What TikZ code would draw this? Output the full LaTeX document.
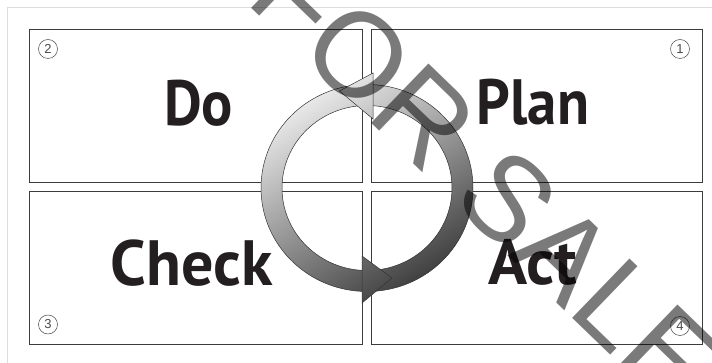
\documentclass[tikz,border=0pt]{standalone}
\usepackage{graphicx}
\usepackage{fontspec}
\setmainfont{Liberation Sans}
\newfontfamily\bigfont{PT Sans}
\definecolor{txt}{HTML}{231F20}
\definecolor{boxgray}{HTML}{3C3C3C}
\definecolor{numgray}{HTML}{4A4A4A}
\definecolor{framegray}{HTML}{DCDCDC}
\definecolor{ringline}{HTML}{333333}
\newcommand\cond[2]{\scalebox{#1}[1]{#2}}
\newcommand\ringshade{\shade[top color=white!96!black, middle color=black!24, bottom color=black!80, shading angle=32] (250,65) rectangle (485,312);}
\begin{document}
\begin{tikzpicture}[x=1pt,y=-1pt,
  box/.style={draw=boxgray, line width=0.9pt, rectangle, inner sep=0pt},
  numc/.style={circle, draw=numgray, line width=0.5pt, minimum size=19pt, inner sep=0pt, text=numgray, font=\fontsize{13}{13}\selectfont},
  lbl/.style={anchor=base, inner sep=0pt, text=txt, font=\bigfont\bfseries\fontsize{64}{64}\selectfont},
  ringedge/.style={draw=ringline, line width=0.5pt, line join=miter},
  wmark/.style={rotate=-44, anchor=base west, inner sep=0pt, text=black, text opacity=0.52, font=\fontsize{120}{120}\selectfont}
]
\useasboundingbox (0,0) rectangle (712,363);
\clip (0,0) rectangle (712,363);
\fill[white] (0,0) rectangle (712,363);
\draw[framegray, line width=1.5pt] (7.5,370) -- (7.5,7.5) -- (720,7.5);

% boxes
\node[box, minimum width=333pt, minimum height=153pt] (bdo) at (196,106) {};
\node[box, minimum width=330.5pt, minimum height=153pt] (bplan) at (536.75,106) {};
\node[box, minimum width=333pt, minimum height=153pt] (bcheck) at (196,268) {};
\node[box, minimum width=330.5pt, minimum height=153pt] (bact) at (536.75,268) {};

% numbers
\node[numc] (n1) at (680,49) {1};
\node[numc] (n2) at (48,49) {2};
\node[numc] (n3) at (48,324.5) {3};
\node[numc] (n4) at (680,326) {4};

% labels
\node[lbl] (tdo) at (198.5,125.5) {\cond{0.91}{Do}};
\node[lbl] (tplan) at (533,124.5) {\cond{0.92}{Plan}};
\node[lbl] (tcheck) at (191.5,286) {\cond{1.0}{Check}};
\node[lbl] (tact) at (533,285) {\cond{1.01}{Act}};

% cycle ring
\begin{scope}[even odd rule]
\clip (367,188) ellipse [x radius=106, y radius=103.5] (367,188) ellipse [x radius=85, y radius=82.5];
\ringshade
\end{scope}
\draw[ringedge] (367,188) ellipse [x radius=106, y radius=103.5];
\draw[ringedge] (367,188) ellipse [x radius=85, y radius=82.5];
% arrow heads
\begin{scope}
\clip (373,73) -- (339.5,91) -- (373,119) -- cycle;
\ringshade
\end{scope}
\draw[ringedge] (373,73) -- (339.5,91) -- (373,119) -- cycle;
\begin{scope}
\clip (362,256) -- (392,278) -- (362,303) -- cycle;
\ringshade
\end{scope}
\draw[ringedge] (362,256) -- (392,278) -- (362,303) -- cycle;

% watermark
\node[wmark] (wm) at (244,1) {FOR SALE};
\end{tikzpicture}
\end{document}
